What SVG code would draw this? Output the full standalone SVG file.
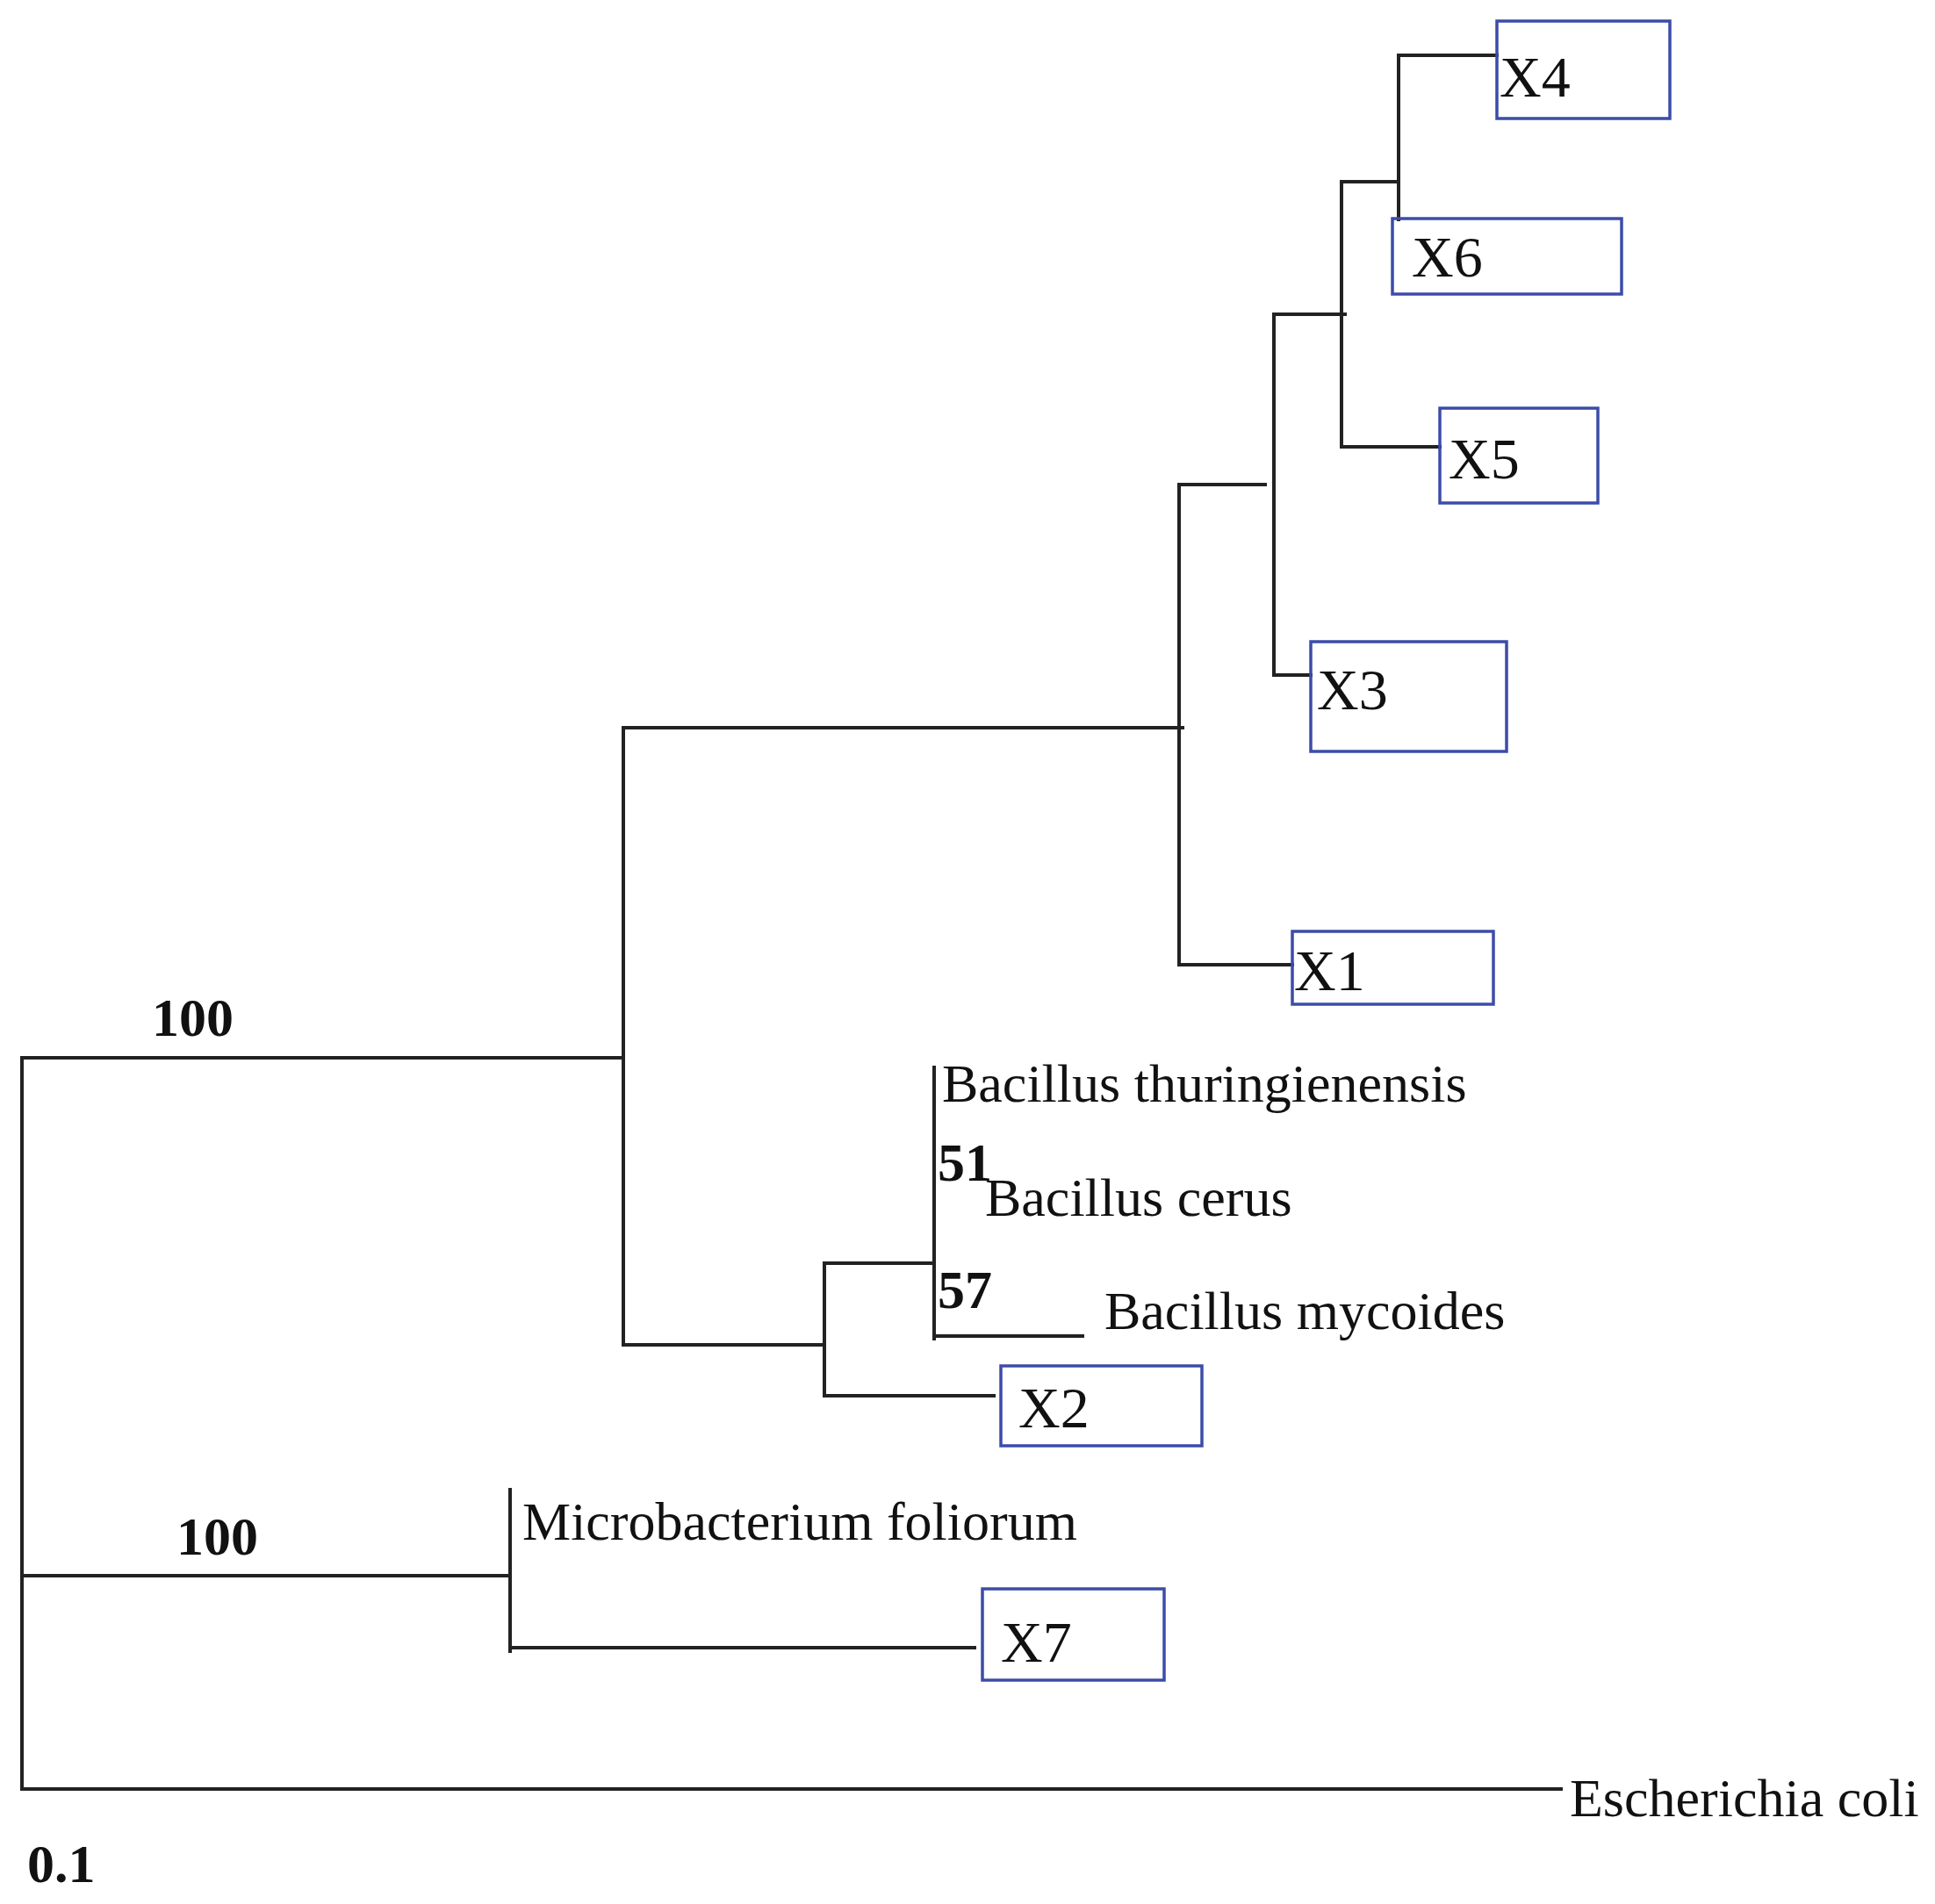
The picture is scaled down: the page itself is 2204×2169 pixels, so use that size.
<svg xmlns="http://www.w3.org/2000/svg" width="2204" height="2169" viewBox="0 0 2204 2169">
<style>
.l{stroke:#222;stroke-width:4;fill:none;stroke-linecap:square}
.b{fill:none;stroke:#3c4ca8;stroke-width:3.5}
text{font-family:"Liberation Serif",serif;fill:#111}
.x{font-size:66px}
.s{font-size:62px}
.n{font-size:62px;font-weight:bold}
</style>
<rect width="2204" height="2169" fill="#fff"/>
<g id="connectors">
<path class="l" d="M25 1205V2038M25 1205H710M710 829V1532M710 829H1347M1343 552V1099M1343 552H1441M1343 1099H1472M1451 358V769M1451 358H1532M1451 769H1493M1528 207V509M1528 207H1593M1528 509H1640M1593 63V250M1593 63H1705"/>
<path class="l" d="M710 1532H939M939 1439V1590M939 1590H1132M939 1439H1064M1064 1216V1525M1064 1522H1233"/>
<path class="l" d="M25 1795H581M581 1697V1881M581 1877H1110M25 2038H1778"/>
</g>
<g id="X4"><rect class="b" x="1705" y="24" width="197" height="111"/><text class="x" x="1708" y="110">X4</text></g>
<g id="X6"><rect class="b" x="1586" y="249" width="261" height="86"/><text class="x" x="1608" y="315">X6</text></g>
<g id="X5"><rect class="b" x="1640" y="465" width="180" height="108"/><text class="x" x="1650" y="545">X5</text></g>
<g id="X3"><rect class="b" x="1493" y="731" width="223" height="125"/><text class="x" x="1500" y="808">X3</text></g>
<g id="X1"><rect class="b" x="1472" y="1061" width="229" height="83"/><text class="x" x="1474" y="1128">X1</text></g>
<g id="X2"><rect class="b" x="1140" y="1556" width="229" height="91"/><text class="x" x="1160" y="1626">X2</text></g>
<g id="X7"><rect class="b" x="1119" y="1810" width="207" height="104"/><text class="x" x="1140" y="1893">X7</text></g>
<g id="bt"><text class="s" x="1073" y="1255">Bacillus thuringienensis</text></g>
<g id="bc"><text class="s" x="1122" y="1385">Bacillus cerus</text></g>
<g id="bm"><text class="s" x="1258" y="1514">Bacillus mycoides</text></g>
<g id="mf"><text class="s" x="595" y="1754">Microbacterium foliorum</text></g>
<g id="ec"><text class="s" x="1788" y="2069">Escherichia coli</text></g>
<g id="labels">
<text class="n" x="173" y="1180">100</text>
<text class="n" x="201" y="1771">100</text>
<text class="n" x="1068" y="1345">51</text>
<text class="n" x="1068" y="1490">57</text>
<text class="n" x="31" y="2144">0.1</text>
</g>
</svg>
